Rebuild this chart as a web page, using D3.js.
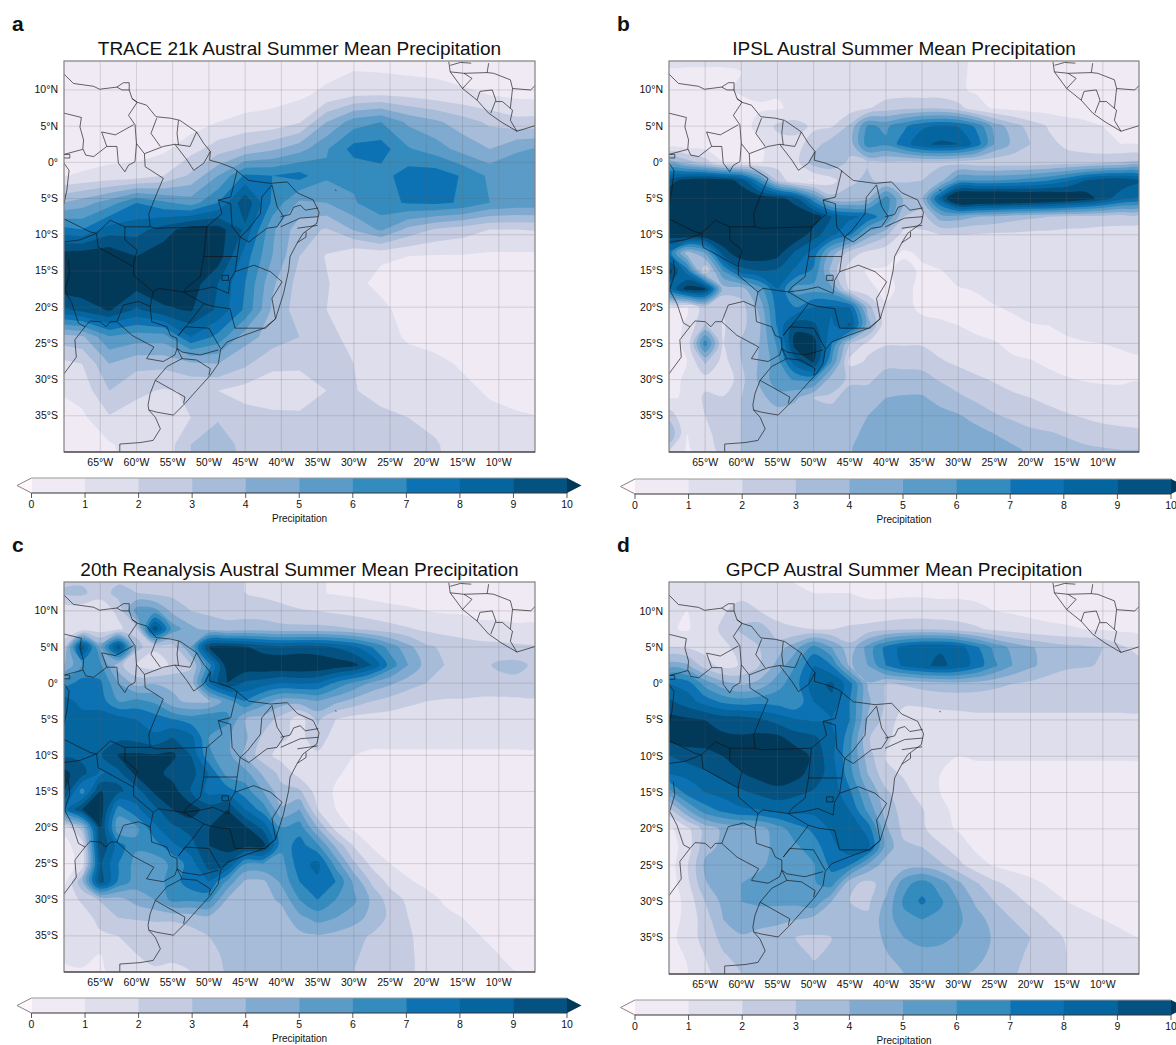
<!DOCTYPE html>
<html>
<head>
<meta charset="utf-8">
<script src="https://cdn.jsdelivr.net/npm/d3@7"></script>
<style>
  html, body { margin: 0; background: #fff; overflow: hidden; }
  text { font-family: "Liberation Sans", Arial, sans-serif; fill: #111; }
</style>
</head>
<body>
<svg id="chart" width="1176" height="1045"></svg>
<script>
const levels = [0,1,2,3,4,5,6,7,8,9,10];
const bandColors = ["#fff7fb","#f0eaf5","#dedeec","#c5cce2","#a6bcd9","#80aacf","#5b9bc8","#348cbe","#0d72b3","#05659f","#045282","#023858"];
const lonTicks = [-65,-60,-55,-50,-45,-40,-35,-30,-25,-20,-15,-10];
const latTicks = [10,5,0,-5,-10,-15,-20,-25,-30,-35];

// TRACE is on its coarse T31 grid, the others on 2.5 degrees
const traceGrid = {lon0:-71.25, dLon:3.75, lat0:16.7, dLat:3.71};
const fineGrid = {lon0:-70, dLon:2.5, lat0:15, dLat:2.5};

const traceRows = [
[.4,.4,.4,.4,.4,.4,.4,.4,.4,.4,.5,.7,.7,.7,.6,.6,.5,.5,.5],
[.4,.4,.4,.4,.4,.4,.4,.4,.4,.4,.6,.9,.8,.7,.7,.6,.5,.5,.5],
[.3,.3,.3,.3,.3,.4,.5,.6,.7,.8,1.3,1.9,2,1.8,1.5,1.2,1,.8,.7],
[.3,.3,.3,.3,.3,.5,1,1.2,1.3,1.9,4,5.5,6,4.8,4.2,3.5,2.8,2.3,2.4],
[.4,.5,.6,.6,.8,1.6,2.5,3.2,3.8,4.6,5.9,7.4,7.5,6.1,5.5,4.6,4,4.9,5.1],
[.9,1.1,1.3,1.4,2,3.2,5,7.2,7,7.4,6.2,6.2,6.6,7.5,7.6,6.9,5.8,5.6,5.6],
[3.8,4.5,5.5,7,6.2,5.5,7,9.8,6.8,4.8,5,5.9,6.7,7.1,7.2,6.9,6,5.7,5.7],
[7.5,7,8.5,8.6,9.5,10.6,10.5,8.8,5.2,3.4,2.9,4.1,5.2,3.7,2.9,2.5,2,2,2.1],
[10.5,10.8,10.8,10,10.6,10.8,10.6,7.5,5,3,1.9,1.1,1.1,1,.9,.9,.8,.8,.8],
[10.8,10.9,10.8,10.5,10.8,10.6,9,7,4.2,2.6,2.1,1.2,.8,.7,.7,.7,.7,.7,.8],
[8.5,9.3,10.1,8.8,9.8,10.1,8.8,6.8,3.8,2.5,2,1.5,1.2,.7,.6,.6,.7,.8,.8],
[3.5,3.8,5.9,5.5,5.5,8,6.7,4.4,3.6,3,2.3,1.7,1.3,.9,.7,.5,.5,.6,.6],
[1.6,2,4,3.3,3.3,3.8,4,3.2,2.2,2.1,2.2,2,1.4,1.3,1.2,.9,.6,.5,.5],
[1,1.4,3,2.2,1.9,2.1,2,1.6,1.5,1.7,2,2.1,1.4,1.6,1.4,1.2,.9,.7,.6],
[.7,.8,1.9,1.6,1,2,2.9,2.4,2.2,2.1,2.2,2.3,2.4,2,1.7,1.4,1.2,1.1,1],
[.4,.6,.9,1.4,1.3,3,3.5,2.7,2.5,2.3,2.3,2.5,2.6,2.5,2.1,1.5,1.2,1.1,1],
[.3,.5,.8,1.2,1.4,3,3.7,2.8,2.5,2.3,2.3,2.5,2.6,2.6,2.2,1.6,1.3,1.2,1.1]
];

const ipslRows = [
[1.3,1.3,1.3,1.3,1.3,1.3,1.3,1.3,1.3,1.3,1.3,1.3,1.3,1.3,1.3,1.3,1.2,.8,.8,.7,.7,.7,.7,.7,.7,.7,.7],
[.9,.9,.9,.9,1,1.2,1.3,1.3,1.3,1.3,1.3,1.3,1.3,1.3,1.3,1.3,1.2,.8,.8,.7,.7,.7,.7,.7,.7,.7,.7],
[.5,.5,.5,.8,1.2,1.2,1.1,1.3,1.4,1.4,1.4,1.4,1.4,1.4,1.3,1.3,1.1,.9,.8,.7,.7,.7,.7,.7,.7,.7,.7],
[.4,.4,.4,.4,.5,.9,.9,1.2,1.4,1.5,1.5,1.9,2.5,2.8,2.9,2.9,2.4,1.3,.9,.7,.6,.6,.6,.6,.6,.6,.6],
[.3,.3,.3,.4,.6,1.3,2.2,2.4,1.8,1.9,3.2,6.2,5.8,6.8,7.8,8.2,8,6.8,4.6,3.5,2.6,1.9,1.4,1.2,1,.8,.7],
[.3,.3,.4,.5,.6,.8,1.6,1.6,2.5,3.6,3.4,6.6,6.2,7.5,8.8,9.2,9,7.6,5,3.8,3,2.3,1.8,1.5,1.1,1,.9],
[4.5,3.5,2.5,1,.9,.9,1.5,1.6,3.5,3.8,2.8,3,2.9,2.7,2.8,2.8,2.6,2.4,2.3,2.3,2.3,2.4,2.5,2.6,2.8,3,3.2],
[9.5,10.5,10.8,10.6,9.6,6.5,2.8,1.2,.9,1.6,2.9,3.1,2.8,2.9,3,3.6,6,6,6,6.2,6.5,7,7.8,9,9.7,9.8,9.2],
[10.8,11,11,11,10.9,10.8,10.5,9.4,6.3,3.4,3.2,3.8,6.5,3.8,3.8,8.5,12.5,12.5,12.5,12.3,12,11.8,11.2,10.6,9.5,8.3,7.8],
[11,11,11,11,11,11,11,11,10.7,9,8.2,7.8,6.2,3,2.5,4.5,4.5,4,3.8,3.4,3.2,3,2.8,2.7,2.6,2.5,2.4],
[10.5,11,11,11,11,11,11,10.8,9.5,8.2,7.2,4.5,3.2,1.6,1.8,2,2,1.9,1.8,1.8,1.7,1.7,1.6,1.6,1.5,1.5,1.5],
[7.5,3.5,5,9.5,10.8,10.8,10.4,8.8,7.6,4.5,2.5,1.7,1.3,.9,1.1,1.5,1.5,1.5,1.5,1.5,1.5,1.5,1.5,1.5,1.5,1.5,1.5],
[10.5,7.5,2,6,8.5,9,8.8,7.8,6.8,3.6,1.5,.9,.9,1.2,.9,.95,1.3,1.5,1.5,1.5,1.5,1.5,1.5,1.5,1.5,1.5,1.5],
[8,10.5,10.3,3.5,3.5,5.5,8,5.6,5.6,5.2,1.8,1.2,.8,1.2,.8,.8,.95,1.05,1.3,1.5,1.5,1.5,1.5,1.5,1.5,1.5,1.5],
[.8,.9,2.6,2.1,2.6,4.3,7.5,7,8.1,8.2,8,3.5,1.1,1.2,.85,.8,.7,.8,.95,1.1,1.3,1.4,1.4,1.4,1.4,1.4,1.4],
[.7,1.1,3.1,1.9,2.7,3.8,7.2,9.6,9.2,7.8,9.2,4.5,1.2,1.3,1.2,1.1,1,.8,.7,.8,.95,1,1.2,1.3,1.4,1.4,1.4],
[.6,1.2,6.6,2,3.1,4,6.2,10.6,10.5,7,3,1.8,1.9,1.9,1.9,1.6,1.4,1.2,1.05,.85,.75,.7,.85,.95,1,1.1,1.15],
[.5,1,3.2,1.6,3,4.1,5.6,8.7,10.2,6,1.7,2.1,2.7,2.7,2.6,2.1,1.8,1.5,1.2,1.1,1.03,.9,.75,.7,.7,.8,.9],
[.8,1.1,1.6,1,2.7,4.2,5.6,6.1,6.2,3.3,2.9,2.8,3.4,3.4,3.4,2.9,2.5,2.2,1.9,1.6,1.25,1.15,1.05,.95,.9,.9,.97],
[.9,1.1,2.2,2.1,3,3.6,4.6,4.2,3,2.9,3.2,3.5,4,4.1,4.1,3.7,3.2,2.8,2.5,2.2,2,1.7,1.5,1.4,1.3,1.25,1.25],
[2.6,1,2,2.8,3,3.2,3.4,3.3,3.2,3.2,3.3,4,4.4,4.5,4.4,4.3,4.1,3.6,3.1,2.8,2.6,2.4,2.1,1.9,1.7,1.6,1.5],
[4,1,1.7,2.5,3,3.2,3.3,3.3,3.3,3.3,3.7,4.3,4.6,4.7,4.7,4.6,4.6,4.4,4,3.6,3.2,3.1,2.9,2.6,2.4,2.3,2.2],
[2,.8,1.5,2.3,3,3.2,3.3,3.3,3.3,3.3,3.9,4.6,4.8,4.8,4.8,4.8,4.8,4.7,4.4,4.3,3.8,3.6,3.4,3.3,3.2,3.1,3.1]
];

const reanalysisRows = [
[2.5,2.5,2.3,2.4,2.6,2.5,2.5,2.4,2.3,2.2,2,1.8,1.5,1.3,1.1,.9,.8,.7,.7,.7,.7,.7,.7,.7,.7,.7,.7],
[3.2,3.3,2.3,3.5,3,2.7,2.7,2.6,2.5,2.3,2,1.8,1.6,1.3,1.1,.9,.8,.7,.7,.7,.7,.7,.7,.7,.7,.7,.7],
[1.3,1.2,1.5,2.2,5.5,5.4,3.7,3,2.8,2.7,2.6,2.5,2.3,2.1,2,1.8,1.6,1.4,1.2,1.1,1,.9,.9,.8,.8,.8,.8],
[1.2,1.3,1.4,1.8,2.6,9.8,5.6,4.3,3.6,3.3,3.5,3.5,3.3,3.3,3.3,3.2,3,2.7,2.4,2.1,1.8,1.6,1.4,1.2,1.2,1.1,1.1],
[2.6,9.6,4.8,9.7,3.4,2.2,2.6,5,10.2,10.5,10.1,9.5,9.2,9.4,9.3,8.9,8.2,7,5.6,4.3,3.2,2.8,2.6,2.4,2.3,2.2,2.1],
[4,6,6.2,3.4,1.9,1.4,2.2,2.9,6.6,10.6,10.8,10.9,11,11,10.9,10.6,10.3,9,6.6,5,3.6,3,2.8,2.7,3.2,3.3,2.8],
[6.5,7.4,7.2,5,3.6,3.9,3.8,3.3,8,10,8.8,8.5,8,8.2,8,6.8,5.8,4.8,4.2,3.5,3,2.7,2.6,2.6,2.6,2.7,2.8],
[8.5,7.6,7.5,6,6.3,5.8,4.2,3.8,3.8,5.5,7,5.5,4.5,4.5,5,4.3,3.6,3,2.6,2.2,2,1.9,1.9,1.8,1.8,1.8,1.8],
[8.6,8.5,8.5,8.4,8,7.5,7,6.5,7,6.3,4,3.6,2.6,1.5,3.2,2,1.6,1.5,1.5,1.5,1.5,1.5,1.5,1.5,1.5,1.5,1.5],
[8.7,8.8,8.8,8.7,8.6,8.2,9,8.3,6,5.2,4.2,2.8,2.2,1.7,2.6,1.5,1.3,1.2,1.2,1.2,1.2,1.2,1.2,1.2,1.2,1.2,1.2],
[8.8,8.7,8.9,10.1,10.2,10.1,10.2,9,6.2,5.4,3.8,2.4,1.6,1.4,1.8,1.4,1,.9,.9,.9,.9,.9,.9,.9,.9,.9,.9],
[10.3,9.4,7.8,8.7,10.3,10.4,9.6,9.4,8,5.6,5.4,3.8,2.7,1.6,2,1.1,.8,.7,.7,.7,.7,.7,.7,.7,.7,.7,.7],
[10,6.5,10.1,9.2,8.5,10.2,10.5,9,7.7,7.6,6.5,5,3.3,3.2,1.5,.9,.6,.6,.6,.6,.6,.6,.6,.6,.6,.6,.6],
[7.5,10,10.6,6.5,7.8,8.7,10,10.5,9.5,10,8,6.5,4.2,5,2,1,.6,.5,.5,.5,.5,.5,.5,.5,.5,.5,.5],
[1.2,3.5,10.2,5.2,5.8,7.8,8.8,9.4,10,10.6,10.2,8.7,6,6.5,4,1.6,.8,.5,.5,.5,.5,.5,.5,.5,.5,.5,.5],
[.7,1.5,10,7.5,6.2,6.5,7.8,8.6,10,10.4,10.4,10.4,6.3,7.5,6.2,3.8,1.9,.9,.6,.6,.6,.6,.6,.6,.6,.6,.6],
[.5,1.3,9.2,7,5.6,5.5,6.2,7.5,9.5,9.3,6,6,5.6,7.6,8.3,5.6,3.2,1.7,1,.7,.6,.5,.5,.5,.5,.5,.6],
[.6,3.8,9.5,6.8,5.5,5.4,6.5,7.6,8,5.8,3.8,3.8,5.2,7,7.8,7,4.8,2.8,1.7,1.1,.8,.6,.5,.5,.5,.5,.6],
[1.6,2.1,3.1,3.6,4.4,5,6.3,6.2,6.3,3.9,3.4,3.6,4.2,6,7,6,5.2,3.8,2.5,1.8,1.3,.9,.7,.6,.6,.6,.6],
[1.6,1.7,2.2,3,3.1,3.2,3.2,3.4,3.7,3.3,3.5,3.4,3.5,4.7,5.4,5,4.5,3.6,2.8,2,1.5,1.2,1,.8,.7,.7,.7],
[1.2,1.7,1.9,2,2.3,2.3,2.3,2.6,3,3.4,3.4,3.2,3.3,3.7,3.9,3.7,3.3,2.9,2.5,2.1,1.7,1.3,1.1,1,.9,.8,.8],
[1.2,1.3,1,1.6,2,2.2,2.1,2.2,2.7,3.2,3.2,3.2,3.3,3.4,3.5,3.4,3.1,2.8,2.4,2.1,1.8,1.5,1.2,1.1,1,.9,.9],
[.8,.9,.9,1.2,1.5,1.9,1.9,2,2.5,3.1,3.2,3.2,3.3,3.3,3.3,3.2,3,2.7,2.4,2.1,1.8,1.6,1.3,1.2,1.1,1,1]
];

const gpcpRows = [
[1,1,1.1,1.3,1.3,1.1,1,.9,.9,.9,.9,.8,.8,.8,.8,.8,.8,.8,.8,.8,.8,.8,.8,.8,.8,.8,.8],
[1.2,1.2,1.3,1.8,1.7,1.3,1.2,1.1,1,1,1,.9,.9,.9,.9,.9,.9,.9,.9,.8,.8,.8,.8,.8,.8,.8,.8],
[1.3,1,1.2,1.9,2.4,2,1.5,1.4,1.4,1.3,1.3,1.2,1.2,1.3,1.3,1.2,1.2,1.1,1,.9,.8,.7,.7,.6,.6,.6,.6],
[1.1,.9,1.5,2.2,3.2,3.6,2.4,2.1,2,2,2.2,2.4,2.7,2.9,3,2.9,2.6,2.2,1.8,1.5,1.3,1.2,1.1,1,.9,.8,.8],
[2,1.9,1.6,1.8,2.3,3,3.5,4.6,6.4,5,3.3,5.4,7.3,8.4,8.9,8.9,8.5,7.2,5.7,4.7,4.1,3.6,3.3,3.2,3,2.2,1.5],
[4.5,4.2,2.5,1.6,2.1,3,4.3,6,8,7,3.8,5,7,8.2,8.8,9.2,8.7,7.6,6.2,5,4.2,3.6,3.2,3.1,2.9,2.5,2.5],
[8,7.6,5.6,4.4,3.8,4.3,5.6,6.6,8.6,9.2,7.4,3.9,3,3.1,3.4,3.6,3.7,3.6,3.3,3,2.8,2.5,2.3,2.2,2.1,2.1,2.1],
[9.2,8.5,7.6,6.8,6.5,6.7,6.6,6.2,8,8.8,7,4.2,2.9,2.2,2.2,2.3,2.3,2.3,2.3,2.3,2.3,2.3,2.3,2.3,2.3,2.3,2.3],
[10.3,10.2,10,9.6,9.6,9.2,8.6,8.1,7.9,8,7,3.9,2.6,1.5,1.5,1.6,1.7,1.8,1.8,1.8,1.8,1.8,1.8,1.8,1.8,1.8,1.8],
[10.3,10.5,10.4,10.2,10.1,10.3,10.3,9.5,9.2,8.4,6.4,3.1,2.3,1.3,1.1,1.2,1.3,1.4,1.4,1.4,1.4,1.4,1.4,1.4,1.5,1.5,1.5],
[9,9.5,9.7,10,10.4,10.5,10.5,10.6,9.8,8.3,6.2,3.5,1.9,1.1,1,1,1,1.1,1.1,1.1,1.1,1.1,1.1,1.1,1.1,1.1,1.1],
[8,8.2,8.8,9.3,9.9,10.4,10.7,10.4,9.5,8.6,6.4,4,2.3,1.9,1.4,1,.8,.7,.7,.7,.7,.7,.7,.7,.7,.7,.7],
[5.5,7.4,8,8.4,8.8,9.2,9.6,9.2,8.9,8.6,7.2,5,3.2,2.3,1.6,1,.7,.6,.6,.6,.6,.6,.6,.7,.7,.7,.7],
[2.5,4.8,6.5,7.2,7.8,7.9,8.2,8.3,8.3,8.4,8,5.8,3.6,2.6,2.1,1.2,.8,.6,.6,.6,.6,.6,.6,.6,.6,.6,.6],
[.8,1.7,3.4,4.2,4.4,4.6,5.5,6.6,7.2,8.2,8.8,7.6,4.2,2.7,2.2,1.3,.9,.6,.6,.6,.6,.6,.6,.6,.6,.6,.6],
[.6,1.4,3.7,4.2,4.4,4.6,5.3,5.8,6.6,7.6,8.8,8.4,4.6,3.2,3,2.2,1.5,.8,.6,.6,.6,.6,.6,.6,.6,.6,.6],
[.5,1.9,4.2,4.6,4.8,4.9,5.2,5.7,5.9,7.3,7,4.8,3.5,3.4,3.6,3.2,2.3,1.4,.9,.6,.6,.6,.6,.6,.6,.6,.6],
[.4,1.7,3.9,4.7,5,5.2,5.4,5.6,5.9,6.5,3.3,2.7,3.4,5.6,6.5,5.5,4.2,3.1,2.2,1.7,1.2,.9,.7,.6,.6,.6,.6],
[.4,1.3,3,4.3,5,5.2,5.2,5.3,5.8,4,3,2.8,4.2,6.2,7.2,6.2,5,3.8,3,2.4,1.8,1.3,1,.8,.7,.7,.7],
[.5,1.3,2.5,4,4.4,4.4,4.4,4,3.6,3.3,3.1,3.2,4.5,5.7,6,5.7,5.2,4.4,3.6,3,2.5,1.9,1.5,1.2,1,.9,.9],
[.7,1.4,2.4,3.3,3.9,3.6,3.1,3,2.9,3,3.2,3.4,4.2,5,5.3,5.2,4.9,4.4,3.9,3.4,3,2.4,1.9,1.6,1.3,1.1,1],
[.5,1.1,2,2.9,3.3,3.3,3.4,3.4,2.9,3.2,3.3,3.5,3.9,4.4,4.7,4.7,4.5,4.2,3.8,3.3,2.8,2.4,2,1.8,1.5,1.3,1.1],
[.4,.9,1.7,2.5,3,3.2,3.4,3.4,3.3,3.3,3.4,3.5,3.7,4,4.2,4.2,4.1,3.9,3.5,3.1,2.7,2.3,2,1.8,1.6,1.5,1.3]
];

// coast and borders as lon/lat lines
const geoLines = [
[[-70,12.2],[-68.7,10.9],[-65.9,10.5],[-65.1,10.1],[-62.7,10.4],[-62,10],[-61,10],[-60.6,8.8],[-59.9,8.3],[-58.6,7.9],[-57.3,6.3],[-55.3,6.1],[-54,5.8],[-51.7,4.2],[-50.7,2.6],[-49.8,1.5],[-49.9,.3],[-48.4,-.1],[-46.6,-.8],[-44.5,-2.5],[-41.5,-2.9],[-39.2,-2.7],[-37.8,-4.2],[-35.6,-5.2],[-34.8,-6.9],[-35.1,-8.4],[-37,-9.8],[-37.8,-11.1],[-38.8,-13],[-39,-14.9],[-39.7,-18.1],[-40.8,-21.6],[-42.4,-22.9],[-45.2,-23.9],[-47.5,-24.8],[-48.4,-25.9],[-48.7,-27.8],[-49.8,-29.4],[-51.7,-31.5],[-53.3,-33.3],[-54.9,-34.9],[-57.2,-34.5],[-58.3,-34.2],[-57.4,-35.2],[-56.7,-36.8],[-57.7,-38.4],[-59.5,-38.7],[-62.3,-38.9],[-62.3,-40.1]],
[[-62.7,10.4],[-61.8,11],[-61,11],[-61,10]],
[[-57.4,-30.1],[-58.1,-31.9],[-58.4,-33.5],[-58.3,-34.2]],
[[-57.4,-30.1],[-55.8,-31],[-53.3,-32.4],[-53.5,-33.3]],
[[-57.4,-30.1],[-55.8,-28.2],[-53.7,-27.1],[-54.4,-25.7]],
[[-58.1,-19.9],[-57.9,-22],[-55.8,-22.7],[-55.3,-23.9],[-54.4,-24.3],[-54.4,-25.7]],
[[-62.7,-22],[-60.6,-23.9],[-57.6,-25.5],[-58.6,-27.1],[-56.3,-27.5],[-54.7,-26.6],[-54.4,-25.7]],
[[-62.7,-22],[-61.8,-19.7],[-59.7,-19.2],[-58.1,-19.9]],
[[-67.1,-22.7],[-66.4,-21.9],[-65,-22],[-64.2,-22.7],[-63.6,-22],[-62.7,-22]],
[[-69.4,-13.5],[-69.2,-15.3],[-69.9,-17.6],[-68.9,-19.5],[-68,-22.2],[-67.1,-22.7],[-68.5,-24.5],[-68.3,-26.9],[-70,-29.2]],
[[-58.1,-19.9],[-57.7,-17.9],[-60.4,-15.6],[-60.4,-14],[-59.9,-12.1],[-61.6,-10.7],[-61.6,-8.9],[-63.6,-8],[-65.5,-9.8],[-67.8,-10.7],[-70,-11]],
[[-70,-7.8],[-66.4,-9.6],[-65.5,-9.8],[-65.3,-11.7],[-60.4,-14.4]],
[[-61.6,-8.9],[-58.1,-8.9],[-57.2,-9.1],[-50.3,-8.9],[-50.7,-13],[-51.2,-15.8],[-53,-17.2],[-53.5,-17.9],[-57,-17.4],[-57.7,-17.9]],
[[-58.1,-8.9],[-58.3,-7.1],[-57.4,-4.8],[-56.3,-2.2],[-58.8,-.6],[-58.9,1.2]],
[[-53.5,-17.9],[-50.7,-19.5],[-52.3,-21.6],[-54.2,-23.9]],
[[-50.7,-19.5],[-49.4,-19.9],[-47.1,-20.2],[-46.4,-22.9],[-42.2,-22.9],[-40.8,-21.6],[-41.3,-18.8],[-39.9,-16.5],[-41.5,-15.1],[-43.8,-14.2],[-46.4,-15.1],[-46.1,-13],[-50.7,-13]],
[[-54.2,-23.9],[-53.3,-22.7],[-50,-22.9],[-48.4,-25.7]],
[[-54.4,-25.7],[-53.7,-26.2],[-51.2,-26.6],[-48.7,-25.9]],
[[-53.7,-27.1],[-51.7,-27.3],[-49.8,-28.5],[-50,-29.4]],
[[-46.4,-15.1],[-47.1,-16.3],[-47.3,-18.1],[-49.4,-17.2],[-51.2,-17.6],[-53.5,-17.9]],
[[-48.2,-15.6],[-47.3,-15.6],[-47.3,-16.3],[-48.2,-16.3],[-48.2,-15.6]],
[[-70,6.8],[-67.6,6.2],[-67.8,4.9],[-67.3,3.1],[-67.4,1.9],[-67,1],[-65.9,.8],[-64.1,2.2],[-64.8,4.2],[-62.9,3.8],[-60.4,5.2]],
[[-70,1.1],[-67.4,1.8]],
[[-70,1.1],[-69.2,1.1],[-69.2,.6],[-70,.6]],
[[-70,-.1],[-69.3,-1.1],[-69.6,-3.8],[-70,-5.7]],
[[-64.1,2.2],[-62.7,2.2],[-62.5,-.1],[-61.6,-1.3],[-61.1,-.4],[-60.2,.1],[-60,2.6],[-60.2,5.2]],
[[-60.6,8.8],[-59.9,8.3],[-61.1,6.5],[-60.2,5.2]],
[[-60,2.6],[-58.9,1.2],[-56.3,2.2]],
[[-57.2,6.1],[-58,4],[-56.7,2.2]],
[[-54.2,5.8],[-54.4,4],[-54.2,2.4]],
[[-56.3,2.2],[-54.7,2.5],[-52.6,2.2],[-51.7,4.2]],
[[-54.7,2.5],[-53,.3],[-52.1,-1.1],[-50.7,-.1],[-49.8,1.5]],
[[-46.1,-1.1],[-47,-4.8],[-48.7,-5.2],[-48.2,-7.1],[-50.3,-8.9]],
[[-48.7,-5.2],[-47,-5.7],[-46.8,-8.9],[-45.7,-10.3],[-46.1,-13]],
[[-41.3,-3.1],[-42.7,-4.8],[-42.9,-7.1],[-44.7,-9.4],[-45.7,-10.3]],
[[-41.3,-3.1],[-40.6,-6.1],[-39.7,-7.5],[-40.6,-8.9],[-42,-9.1],[-44.5,-11],[-45.7,-10.3]],
[[-40.1,-7.5],[-38.8,-7.2],[-38.3,-6.2],[-37.4,-5.9],[-36.7,-6.6],[-34.9,-6.3]],
[[-40.1,-8.9],[-37.4,-7.7],[-34.9,-7.5]],
[[-37.8,-9.1],[-35,-8.7]],
[[-37.8,-11.1],[-36.6,-10.3],[-36.6,-9.6]],
[[-32.6,-3.8],[-32.4,-3.9]],
[[-16.9,13.9],[-16.7,12.5],[-15,10.2],[-13,8.6],[-11.4,6.8],[-9.7,5.6],[-7.5,4.3],[-4.9,5.1]],
[[-16.7,12.5],[-14.8,12.3],[-11.6,12.4],[-10.7,12.3],[-8.4,11.4],[-8.1,10.2],[-5.6,10],[-4.9,10.7]],
[[-11.6,12.4],[-11.4,13.7]],
[[-16.7,13.4],[-15.3,13.8],[-13.8,13.7]],
[[-15,10.2],[-13.7,11.6],[-14.8,12.3]],
[[-13,8.6],[-12.6,9.8],[-10.9,10],[-10.4,8.6],[-11.1,6.8]],
[[-10.4,8.4],[-9.5,8.4],[-8.1,7.2],[-8.4,5.8],[-7.5,4.3]],
[[-8.1,10.2],[-8.4,7.5]]
];

const panels = [
  {letter:"a", title:"TRACE 21k Austral Summer Mean Precipitation", rows:traceRows, grid:traceGrid, curve:d3.curveLinearClosed,
   x0:64, x1:535, y0:61, y1:452, lx:12, ly:31, titleY:55, barX0:31.5, barX1:567, barY0:478, barY1:493},
  {letter:"b", title:"IPSL Austral Summer Mean Precipitation", rows:ipslRows, grid:fineGrid, curve:d3.curveCatmullRomClosed,
   x0:669, x1:1139, y0:61, y1:452, lx:617, ly:31, titleY:55, barX0:635, barX1:1171, barY0:479, barY1:494},
  {letter:"c", title:"20th Reanalysis Austral Summer Mean Precipitation", rows:reanalysisRows, grid:fineGrid, curve:d3.curveCatmullRomClosed,
   x0:64, x1:535, y0:582, y1:972, lx:12, ly:552, titleY:576, barX0:31.5, barX1:567, barY0:998, barY1:1013},
  {letter:"d", title:"GPCP Austral Summer Mean Precipitation", rows:gpcpRows, grid:fineGrid, curve:d3.curveCatmullRomClosed,
   x0:669, x1:1139, y0:582, y1:974, lx:617, ly:552, titleY:576, barX0:635, barX1:1171, barY0:1000, barY1:1015}
];

const svg = d3.select("#chart");

function lonLabel(d) { return Math.abs(d) + "°W"; }
function latLabel(d) {
  if (d === 0) return "0°";
  return Math.abs(d) + (d > 0 ? "°N" : "°S");
}

panels.forEach((p, idx) => {
  const g = svg.append("g");
  const x = d3.scaleLinear().domain([-70,-5]).range([p.x0,p.x1]);
  const y = d3.scaleLinear().domain([14,-40]).range([p.y0,p.y1]);

  g.append("clipPath").attr("id","clip"+idx).append("rect")
    .attr("x",p.x0).attr("y",p.y0).attr("width",p.x1-p.x0).attr("height",p.y1-p.y0);

  const plot = g.append("g").attr("clip-path",`url(#clip${idx})`);
  plot.append("rect").attr("x",p.x0).attr("y",p.y0).attr("width",p.x1-p.x0).attr("height",p.y1-p.y0)
    .attr("fill",bandColors[1]);

  /* Filled contour bands, one layer per level. */
  const ny = p.rows.length, nx = p.rows[0].length;
  const contours = d3.contours().size([nx,ny]).thresholds(levels.slice(1))(p.rows.flat());
  const ring = d3.line()
    .x(d => x(p.grid.lon0 + (d[0]-0.5)*p.grid.dLon))
    .y(d => y(p.grid.lat0 - (d[1]-0.5)*p.grid.dLat))
    .curve(p.curve);
  plot.selectAll("path.band").data(contours).enter().append("path")
    .attr("class","band")
    .attr("fill", d => bandColors[d.value+1])
    .attr("fill-rule","evenodd")
    .attr("d", d => d.coordinates.map(poly => poly.map(r => ring(r.slice(0,-1))).join("")).join(""));

  /* Graticule. */
  plot.selectAll("line.gx").data(lonTicks).enter().append("line")
    .attr("x1",d=>x(d)).attr("x2",d=>x(d)).attr("y1",p.y0).attr("y2",p.y1)
    .attr("stroke","#666").attr("stroke-opacity",0.22).attr("stroke-width",1);
  plot.selectAll("line.gy").data(latTicks).enter().append("line")
    .attr("y1",d=>y(d)).attr("y2",d=>y(d)).attr("x1",p.x0).attr("x2",p.x1)
    .attr("stroke","#666").attr("stroke-opacity",0.22).attr("stroke-width",1);

  /* Coast and borders. */
  const geo = d3.line().x(d=>x(d[0])).y(d=>y(d[1]));
  plot.selectAll("path.geo").data(geoLines).enter().append("path")
    .attr("d",geo).attr("fill","none").attr("stroke","#111").attr("stroke-opacity",0.8)
    .attr("stroke-width",0.8).attr("stroke-linejoin","round");

  /* Frame. */
  g.append("rect").attr("x",p.x0).attr("y",p.y0).attr("width",p.x1-p.x0).attr("height",p.y1-p.y0)
    .attr("fill","none").attr("stroke","#808080").attr("stroke-width",1.2);
  g.append("line").attr("x1",p.x0).attr("x2",p.x1).attr("y1",p.y1).attr("y2",p.y1)
    .attr("stroke","#333").attr("stroke-width",1.2);

  /* Tick labels. */
  g.selectAll("text.lon").data(lonTicks).enter().append("text")
    .attr("x",d=>x(d)).attr("y",p.y1+14).attr("text-anchor","middle").attr("font-size",10.5)
    .text(lonLabel);
  g.selectAll("text.lat").data(latTicks).enter().append("text")
    .attr("x",p.x0-6).attr("y",d=>y(d)+3.5).attr("text-anchor","end").attr("font-size",10.5)
    .text(latLabel);

  /* Title and panel letter. */
  g.append("text").attr("x",(p.x0+p.x1)/2).attr("y",p.titleY).attr("text-anchor","middle")
    .attr("font-size",19).text(p.title);
  g.append("text").attr("x",p.lx).attr("y",p.ly).attr("font-size",21).attr("font-weight","bold").text(p.letter);

  /* Colour bar. */
  const bx = d3.scaleLinear().domain([0,10]).range([p.barX0,p.barX1]);
  const bar = g.append("g");
  bar.selectAll("rect").data(levels.slice(0,-1)).enter().append("rect")
    .attr("x",d=>bx(d)).attr("width",d=>bx(d+1)-bx(d)+0.5).attr("y",p.barY0).attr("height",p.barY1-p.barY0)
    .attr("fill",d=>bandColors[d+1]);
  const tip = 14.5, midY = (p.barY0+p.barY1)/2;
  bar.append("path").attr("d",`M${bx(0)},${p.barY0}L${bx(0)-tip},${midY}L${bx(0)},${p.barY1}Z`).attr("fill",bandColors[0]);
  bar.append("path").attr("d",`M${bx(10)},${p.barY0}L${bx(10)+tip},${midY}L${bx(10)},${p.barY1}Z`).attr("fill",bandColors[11]);
  bar.append("path")
    .attr("d",`M${bx(0)},${p.barY0}L${bx(0)-tip},${midY}L${bx(0)},${p.barY1}`)
    .attr("fill","none").attr("stroke","#777").attr("stroke-width",0.9);
  bar.append("line").attr("x1",bx(0)).attr("x2",bx(10)).attr("y1",p.barY0).attr("y2",p.barY0)
    .attr("stroke","#999").attr("stroke-width",1);
  bar.append("line").attr("x1",bx(0)).attr("x2",bx(10)).attr("y1",p.barY1).attr("y2",p.barY1)
    .attr("stroke","#333").attr("stroke-width",1);
  bar.selectAll("line.tick").data(levels).enter().append("line").attr("class","tick")
    .attr("x1",d=>bx(d)).attr("x2",d=>bx(d)).attr("y1",p.barY1).attr("y2",p.barY1+5)
    .attr("stroke","#333").attr("stroke-width",0.8);
  bar.selectAll("text.tick").data(levels).enter().append("text").attr("class","tick")
    .attr("x",d=>bx(d)).attr("y",p.barY1+15).attr("text-anchor","middle").attr("font-size",10.5)
    .text(d=>d);
  bar.append("text").attr("x",(p.x0+p.x1)/2).attr("y",p.barY1+29).attr("text-anchor","middle")
    .attr("font-size",10).text("Precipitation");
});
</script>
</body>
</html>
